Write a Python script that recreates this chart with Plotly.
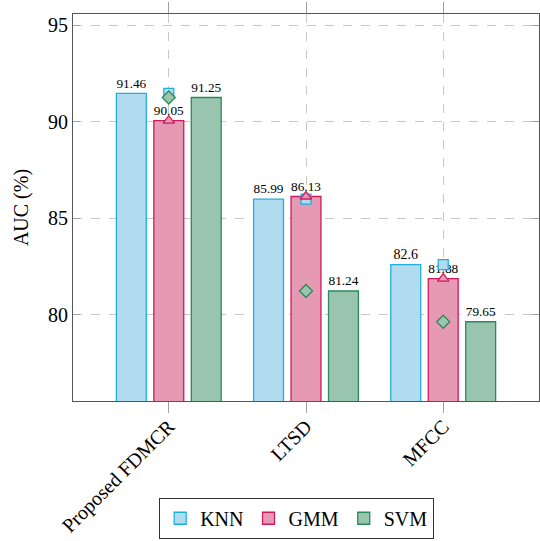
import plotly.graph_objects as go

# Categories and AUC scores (%) per classifier
categories = ["Proposed FDMCR", "LTSD", "MFCC"]
knn = [91.46, 85.99, 82.6]
gmm = [90.05, 86.13, 81.88]
svm = [91.25, 81.24, 79.65]
y_ticks = [80, 85, 90, 95]

series = [
    ("KNN", knn, "#b1dcf0", "#1fb0de", "square", -0.273),
    ("GMM", gmm, "#e699b2", "#cf1a5b", "triangle-up", 0.0),
    ("SVM", svm, "#99c4ae", "#2b8a5a", "diamond", 0.273),
]

bar_w = 0.218
xs = list(range(len(categories)))
serif = "Liberation Serif"

fig = go.Figure()
for name, vals, fill, edge, sym, shift in series:
    fig.add_trace(go.Bar(
        x=xs, y=vals, name=name,
        offset=shift - bar_w / 2, width=bar_w,
        marker=dict(color=fill, line=dict(color=edge, width=1.3)),
        text=[str(v) for v in vals], textposition="outside",
        textfont=dict(family=serif, size=14, color="black"),
        cliponaxis=False,
    ))

# Markers at each group's centre, at the series value
for name, vals, fill, edge, sym, shift in series:
    fig.add_trace(go.Scatter(
        x=xs, y=vals, mode="markers", showlegend=False,
        marker=dict(symbol=sym, size=10, color=fill, line=dict(color=edge, width=1.3)),
        cliponaxis=False,
    ))

fig.update_layout(
    width=540, height=541,
    margin=dict(l=73, r=1, t=14, b=140),
    plot_bgcolor="white", paper_bgcolor="white",
    barmode="overlay",
    font=dict(family=serif, color="black"),
    legend=dict(
        orientation="h", x=0.48, xanchor="center", y=-0.25, yanchor="top",
        bordercolor="#333", borderwidth=1, font=dict(family=serif, size=20),
        itemwidth=30, tracegroupgap=0,
    ),
)
fig.update_xaxes(
    range=[-0.698, 2.698], automargin=False,
    tickvals=xs, ticktext=categories, tickangle=-45,
    tickfont=dict(family=serif, size=20), ticklabelstandoff=-6,
    ticks="outside", ticklen=11, tickcolor="#a0a0a0", tickwidth=1,
    showline=True, linecolor="#555", linewidth=1, mirror="allticks",
    showgrid=True, gridcolor="#c8c8c8", griddash="dash", gridwidth=1,
    zeroline=False,
)
fig.update_yaxes(
    range=[75.55, 95.57], automargin=False,
    tickvals=y_ticks, tickfont=dict(family=serif, size=20),
    ticks="inside", ticklen=7, tickcolor="#a0a0a0", tickwidth=1,
    showline=True, linecolor="#555", linewidth=1, mirror="allticks",
    showgrid=True, gridcolor="#c8c8c8", griddash="dash", gridwidth=1,
    zeroline=False,
    title=dict(text="AUC (%)", font=dict(family=serif, size=20), standoff=14),
)

fig.write_html("out.html")
